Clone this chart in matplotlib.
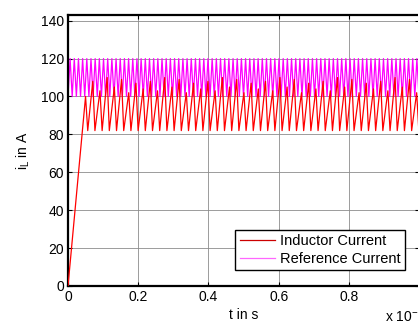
import numpy as np
import matplotlib.pyplot as plt

plt.rcParams['font.family'] = ['Liberation Sans', 'DejaVu Sans']

# values (time in ms, current in A)
ramp_t = [0.0, 0.05]
ramp_i = [0.0, 100.0]
ind_trough = 82.0
ind_peaks = [108, 103, 110, 105, 109, 102, 107, 104]
ind_period = 0.0205
ref_low = 100.0
ref_high = 120.0
ref_period = 0.0119
t_end = 1.0

xticks = [0, 0.2, 0.4, 0.6, 0.8]
yticks = [0, 20, 40, 60, 80, 100, 120, 140]

# inductor current: ramp then hysteresis ripple
n_ind = int((t_end - ramp_t[1]) / ind_period) + 1
peaks = np.resize(ind_peaks, n_ind)
ind_t = list(ramp_t)
ind_i = list(ramp_i)
t0 = ramp_t[1]
for k in range(n_ind):
    ind_t += [t0 + 0.3 * ind_period, t0 + ind_period]
    ind_i += [ind_trough, peaks[k]]
    t0 += ind_period

# reference current: triangle band
n_ref = int(t_end / ref_period) + 1
ref_t = np.arange(2 * n_ref + 1) * ref_period / 2
ref_i = np.where(np.arange(2 * n_ref + 1) % 2 == 0, ref_low, ref_high)

fig = plt.figure(figsize=(4.18, 3.29), dpi=100)
ax = fig.add_axes([0.1627, 0.1307, 0.8400, 0.8237])

ax.plot(ref_t, ref_i, color='#ff00ff', lw=0.9, zorder=2)
ax.plot(ind_t, ind_i, color='red', lw=0.9, zorder=3)

ax.set_xlim(0, 1.0)
ax.set_ylim(0, 143)
ax.set_xticks(xticks)
ax.set_xticklabels(['0', '0.2', '0.4', '0.6', '0.8'])
ax.set_yticks(yticks)
ax.tick_params(direction='in', top=True, right=True, length=3, labelsize=10, pad=3)
ax.grid(True, color='#8c8c8c', lw=0.6, ls='-')
for s in ax.spines.values():
    s.set_linewidth(1.6)

ax.set_xlabel('t in s', fontsize=10, labelpad=3)
ax.set_ylabel('i$_\\mathregular{L}$ in A', fontsize=10, labelpad=6)
fig.text(0.92, 0.022, 'x 10$^{\\mathregular{-3}}$', fontsize=10)

h1, = ax.plot([], [], color='#cc0000', lw=0.9)
h2, = ax.plot([], [], color='#ff66ff', lw=0.9)
leg = ax.legend([h1, h2], ['Inductor Current', 'Reference Current'],
                loc='lower left', bbox_to_anchor=(0.476, 0.058), fontsize=10.5,
                fancybox=False, framealpha=1, edgecolor='black',
                borderpad=0.3, labelspacing=0.25, handlelength=2.4,
                handletextpad=0.35, borderaxespad=0)
leg.get_frame().set_linewidth(1.0)

fig.savefig('out.png', dpi=100)
